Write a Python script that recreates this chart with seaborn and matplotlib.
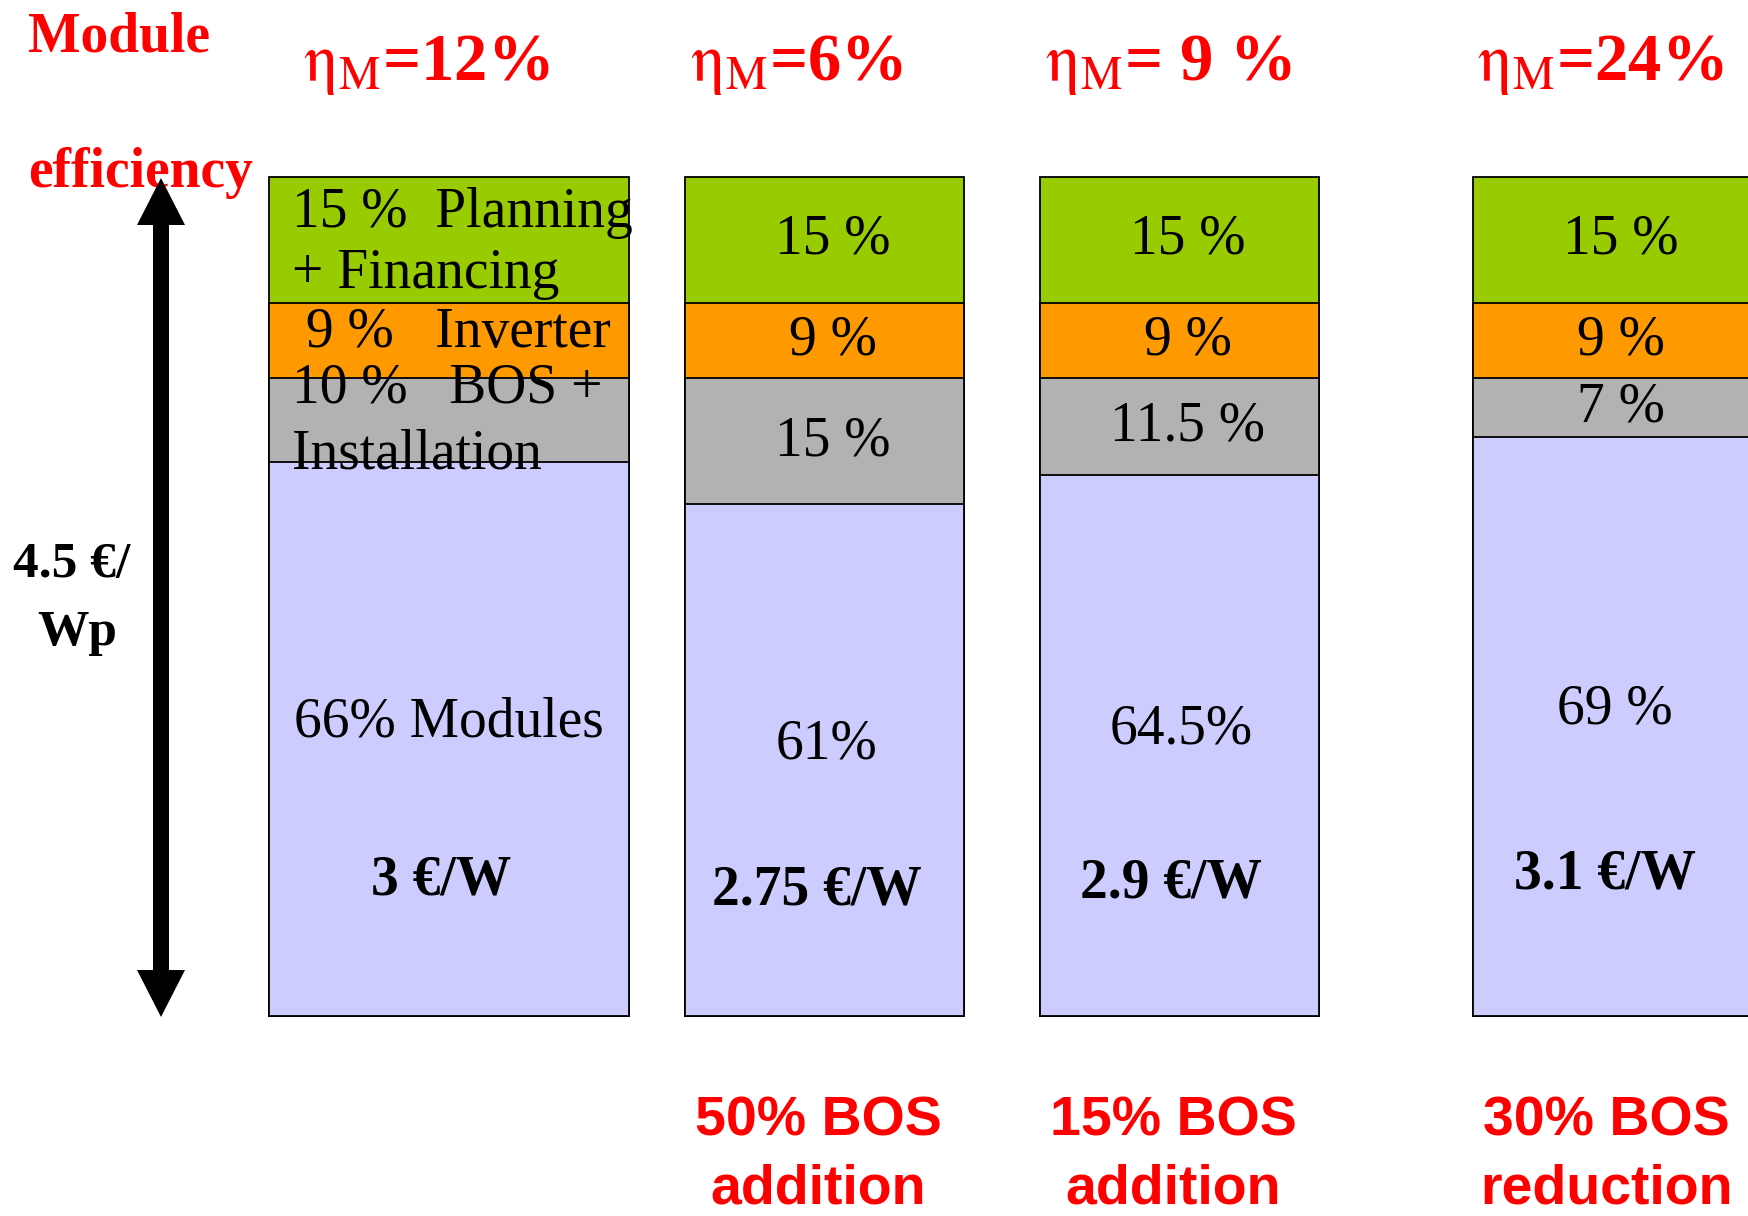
import matplotlib
matplotlib.use("Agg")
import matplotlib.pyplot as plt
import numpy as np
import pandas as pd
import seaborn as sns
from matplotlib.patches import Polygon

# ---- data -------------------------------------------------------------
scenarios = ["eta 12%", "eta 6%", "eta 9%", "eta 24%"]
eta_titles = [r"$\mathrm{\eta_M}$=12%", r"$\mathrm{\eta_M}$=6%",
              r"$\mathrm{\eta_M}$= 9 %", r"$\mathrm{\eta_M}$=24%"]
planning = [15, 15, 15, 15]
inverter = [9, 9, 9, 9]
bos = [10, 15, 11.5, 7]
modules = [66, 61, 64.5, 69]

planning_labels = ["15 %  Planning\n+ Financing", "15 %", "15 %", "15 %"]
inverter_labels = [" 9 %   Inverter", "9 %", "9 %", "9 %"]
bos_labels = ["10 %   BOS +\nInstallation", "15 %", "11.5 %", "7 %"]
module_labels = ["66% Modules", "61%", "64.5%", "69 %"]
module_prices = ["3 €/W", "2.75 €/W", "2.9 €/W", "3.1 €/W"]
bos_notes = ["", "50% BOS\naddition", "15% BOS\naddition", "30% BOS\nreduction"]
total_label = ["4.5 €/", "Wp"]

# ---- layout (figure pixels) -------------------------------------------
W, H, DPI = 1748, 1216, 100
bar_centers = [449, 824.5, 1179.5, 1612.5]
bar_widths = [360, 279, 279, 279]
plot_top, plot_bottom = 177, 1016

GREEN, ORANGE, GREY, LAVENDER = "#99CC00", "#FF9900", "#B2B2B2", "#CCCCFF"
RED = "#FF0000"

sns.set_theme(style="white")
plt.rcParams["font.family"] = ["Liberation Serif", "DejaVu Serif"]
plt.rcParams["text.color"] = "black"
plt.rcParams["mathtext.fontset"] = "stix"

fig = plt.figure(figsize=(W / DPI, H / DPI), dpi=DPI)
fig.patch.set_facecolor("white")
ax = fig.add_axes([0, 1 - plot_bottom / H, 1, (plot_bottom - plot_top) / H])

df = pd.DataFrame({"scenario": scenarios, "pos": bar_centers,
                   "planning": planning, "inverter": inverter,
                   "bos": bos, "modules": modules})
df["top_modules"] = df["modules"]
df["top_bos"] = df["top_modules"] + df["bos"]
df["top_inverter"] = df["top_bos"] + df["inverter"]
df["top_planning"] = df["top_inverter"] + df["planning"]

# stacked bars: draw cumulative tops from the tallest down
for col, color in [("top_planning", GREEN), ("top_inverter", ORANGE),
                   ("top_bos", GREY), ("top_modules", LAVENDER)]:
    n0 = len(ax.patches)
    sns.barplot(data=df, x="pos", y=col, native_scale=True, color=color,
                saturation=1, edgecolor="black", linewidth=1.3,
                errorbar=None, ax=ax)
    for p, c, w in zip(ax.patches[n0:], bar_centers, bar_widths):
        p.set_x(c - w / 2)
        p.set_width(w)
        p.set_clip_on(False)

ax.set_xlim(0, W)
ax.set_ylim(0, 100)
ax.axis("off")

# ---- segment labels ---------------------------------------------------
seg_fs = 40
px = 100 / (plot_bottom - plot_top)   # one pixel in value units
for i, c in enumerate(bar_centers):
    m, b, inv, pl = modules[i], bos[i], inverter[i], planning[i]
    top = m + b + inv + pl
    if i == 0:
        xl = c - bar_widths[i] / 2 + 23
        pl_lines = planning_labels[i].split("\n")
        ax.text(xl, top - 50 * px, pl_lines[0], ha="left", va="baseline", fontsize=seg_fs)
        ax.text(xl, top - 111 * px, pl_lines[1], ha="left", va="baseline", fontsize=seg_fs)
        ax.text(xl, m + b + 31 * px, inverter_labels[i], ha="left", va="baseline",
                fontsize=seg_fs)
        bos_lines = bos_labels[i].split("\n")
        ax.text(xl, m - 6 * px + 66 * px, bos_lines[0], ha="left", va="baseline",
                fontsize=seg_fs)
        ax.text(xl, m - 6 * px, bos_lines[1], ha="left", va="baseline", fontsize=seg_fs)
        ax.text(c, m * 0.53, module_labels[i], ha="center", va="center",
                fontsize=seg_fs)
    else:
        xc = c + 8
        ax.text(xc, m + b + inv + pl / 2, planning_labels[i], ha="center",
                va="center", fontsize=seg_fs)
        ax.text(xc, m + b + inv / 2, inverter_labels[i], ha="center",
                va="center", fontsize=seg_fs)
        ax.text(xc, m + b / 2, bos_labels[i], ha="center", va="center",
                fontsize=seg_fs)
        ax.text(c + 2, m * 0.53, module_labels[i], ha="center", va="center",
                fontsize=seg_fs)
    ax.text(c - 8, m * 0.245, module_prices[i], ha="center", va="center",
            fontsize=seg_fs, fontweight="bold")

# ---- annotation layer in pixel coordinates -----------------------------
ov = fig.add_axes([0, 0, 1, 1], zorder=5)
ov.set_xlim(0, W)
ov.set_ylim(H, 0)
ov.axis("off")
ov.patch.set_alpha(0)

ov.text(28, 52, "Module", color=RED, fontsize=40, fontweight="bold",
        ha="left", va="baseline")
ov.text(28, 187, "efficiency", color=RED, fontsize=40, fontweight="bold",
        ha="left", va="baseline")

title_centers = [426, 797, 1168, 1600]
for x, t in zip(title_centers, eta_titles):
    ov.text(x, 80, t, color=RED, fontsize=48, fontweight="bold",
            ha="center", va="baseline")

# double-headed arrow for the total system price
ax_x, tip_top, tip_bot = 161, 178, 1017
head_len, head_half, shaft_half = 47, 24, 8
arrow_pts = [
    (ax_x, tip_top), (ax_x + head_half, tip_top + head_len),
    (ax_x + shaft_half, tip_top + head_len), (ax_x + shaft_half, tip_bot - head_len),
    (ax_x + head_half, tip_bot - head_len), (ax_x, tip_bot),
    (ax_x - head_half, tip_bot - head_len), (ax_x - shaft_half, tip_bot - head_len),
    (ax_x - shaft_half, tip_top + head_len), (ax_x - head_half, tip_top + head_len),
]
ov.add_patch(Polygon(arrow_pts, closed=True, facecolor="black",
                     edgecolor="none", zorder=6))

ov.text(72, 577, total_label[0], fontsize=37, fontweight="bold",
        ha="center", va="baseline")
ov.text(77, 645, total_label[1], fontsize=37, fontweight="bold",
        ha="center", va="baseline")

for c, note in zip(bar_centers, bos_notes):
    if not note:
        continue
    for k, line in enumerate(note.split("\n")):
        ov.text(c - 6, 1136 + 67 * k, line, color=RED, fontsize=40,
                fontweight="bold", family=["Liberation Sans", "DejaVu Sans"],
                ha="center", va="baseline")

fig.savefig("out.png", dpi=DPI, facecolor="white")
